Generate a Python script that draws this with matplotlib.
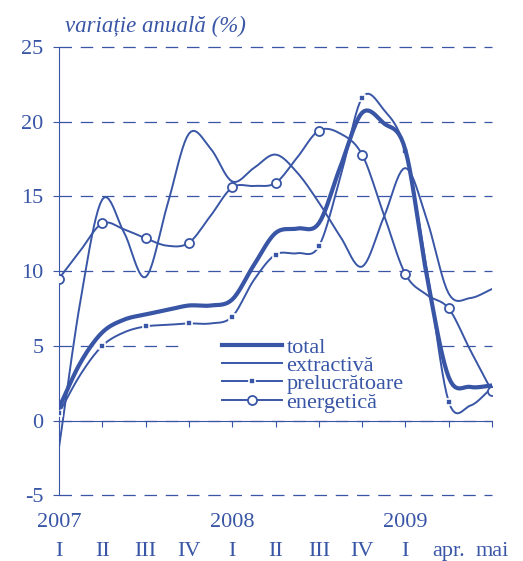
import matplotlib
matplotlib.use("Agg")
import matplotlib.pyplot as plt
from matplotlib.patches import Rectangle
import numpy as np

# values, every half step between the quarter ticks
total = [0.85, 3.9, 5.9, 6.75, 7.1, 7.4, 7.7, 7.7, 8.1, 10.4, 12.55, 12.85, 13.2,
         17.0, 20.6, 19.9, 18.1, 9.6, 2.9, 2.25, 2.35]
extractiva = [-1.8, 8.1, 14.8, 12.6, 9.6, 14.4, 19.2, 18.2, 16.0, 16.9, 17.8, 16.6,
              14.6, 12.3, 10.3, 13.6, 16.9, 13.4, 8.5, 8.2, 8.8]
prelucratoare = [0.5, 3.1, 5.0, 5.9, 6.3, 6.4, 6.5, 6.5, 6.95, 9.4, 11.1, 11.2, 11.65,
                 16.3, 21.6, 20.8, 18.05, 10.0, 1.27, 1.0, 2.2]
energetica = [9.5, 11.4, 13.2, 12.8, 12.2, 11.7, 11.9, 13.7, 15.6, 15.7, 15.9, 17.6,
              19.4, 19.2, 17.8, 13.8, 9.8, 8.4, 7.5, 4.7, 1.95]

years = ["2007", "2008", "2009"]
year_pos = [0, 4, 8]
periods = ["I", "II", "III", "IV", "I", "II", "III", "IV", "I", "apr.", "mai"]
yticks = [-5, 0, 5, 10, 15, 20, 25]

BLUE = "#3956a6"
SUB = 10  # drawing steps per half interval


def smooth(y, k=SUB):
    # catmull-rom curve through the read points (like excel "smoothed line")
    y = np.asarray(y, float)
    x = np.arange(len(y)) / 2.0
    px = np.concatenate([[2 * x[0] - x[1]], x, [2 * x[-1] - x[-2]]])
    py = np.concatenate([[2 * y[0] - y[1]], y, [2 * y[-1] - y[-2]]])
    t = np.linspace(0, 1, k, endpoint=False)
    xs, ys = [], []
    for i in range(1, len(px) - 2):
        for p, out in ((px, xs), (py, ys)):
            p0, p1, p2, p3 = p[i - 1], p[i], p[i + 1], p[i + 2]
            out.append(0.5 * (2 * p1 + (-p0 + p2) * t
                              + (2 * p0 - 5 * p1 + 4 * p2 - p3) * t ** 2
                              + (-p0 + 3 * p1 - 3 * p2 + p3) * t ** 3))
    xs.append([x[-1]])
    ys.append([y[-1]])
    return np.concatenate(xs), np.concatenate(ys)


plt.rcParams["font.family"] = ["Liberation Serif", "DejaVu Serif"]
plt.rcParams["axes.unicode_minus"] = False

fig = plt.figure(figsize=(5.23, 5.61), dpi=100)
ax = fig.add_axes([59 / 523, 1 - 496 / 561, 433 / 523, 449 / 561])

# dashed grid lines, drawn by hand so the one at -5 is not clipped
ax.hlines(yticks, 0, 10, colors=BLUE, lw=0.9, linestyles=(0, (10, 7)),
          zorder=0.5, clip_on=False)

# white box behind the legend hides the grid line at 5
ax.add_patch(Rectangle((0.296, 0.19), 0.589, 0.167, transform=ax.transAxes,
                       facecolor="white", edgecolor="none", zorder=1))

x, y = smooth(total)
ax.plot(x, y, color=BLUE, lw=3.0, label="total", zorder=4)
x, y = smooth(extractiva)
ax.plot(x, y, color=BLUE, lw=1.4, label="extractivă", zorder=3)
x, y = smooth(prelucratoare)
ax.plot(x, y, color=BLUE, lw=1.4, marker="s", ms=4.5, mfc=BLUE, mec="white",
        mew=1.2, markevery=2 * SUB, label="prelucrătoare", zorder=3)
x, y = smooth(energetica)
ax.plot(x, y, color=BLUE, lw=1.4, marker="o", ms=6.5, mfc="white", mec=BLUE,
        mew=1.3, markevery=2 * SUB, label="energetică", zorder=3)

ax.set_xlim(0, 10)
ax.set_ylim(-5.05, 25)
ax.set_yticks(yticks)
ax.set_xticks(range(11))

for s in ["top", "right"]:
    ax.spines[s].set_visible(False)
ax.spines["bottom"].set_position(("data", 0))
ax.spines["bottom"].set_color(BLUE)
ax.spines["left"].set_color(BLUE)
ax.spines["left"].set_bounds(-5, 25)
ax.tick_params(axis="y", colors=BLUE, labelsize=16, length=4, width=0.8, pad=7)
ax.tick_params(axis="x", colors=BLUE, length=4.5, width=0.8, labelbottom=False)

tr = ax.get_xaxis_transform()
for yr, pos in zip(years, year_pos):
    ax.text(pos, -0.058, yr, transform=tr, ha="center", va="center",
            fontsize=16, color=BLUE)
for i, p in enumerate(periods):
    ax.text(i, -(556 - 496) / 449, p, transform=tr, ha="center", va="baseline",
            fontsize=16, color=BLUE)

fig.text(65 / 523, 1 - 26 / 561, "variație anuală (%)", ha="left", va="center",
         fontsize=16.5, style="italic", color=BLUE)

leg = ax.legend(loc="upper left", bbox_to_anchor=(222 / 523, 1 - 337 / 561),
                bbox_transform=fig.transFigure, frameon=False, fontsize=16,
                handlelength=2.7, handletextpad=0.2, labelspacing=-0.1,
                borderpad=0, borderaxespad=0, numpoints=1)
for t in leg.get_texts():
    t.set_color(BLUE)

fig.savefig("out.png", dpi=100)
